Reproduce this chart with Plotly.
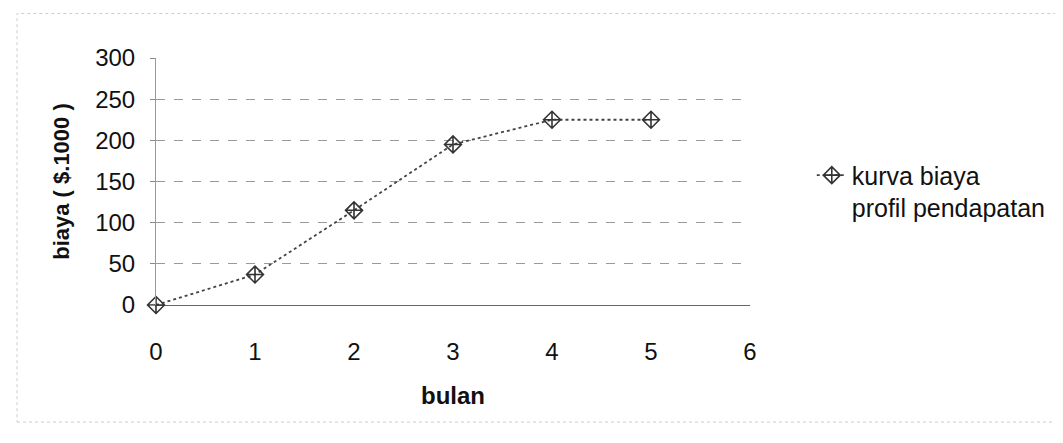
import plotly.graph_objects as go

bulan = [0, 1, 2, 3, 4, 5]
biaya = [0, 37, 115, 195, 225, 225]
y_ticks = [0, 50, 100, 150, 200, 250, 300]
x_ticks = [0, 1, 2, 3, 4, 5, 6]

fig = go.Figure()
fig.add_trace(go.Scatter(
    x=bulan,
    y=biaya,
    mode="lines+markers",
    name="kurva biaya<br>profil pendapatan",
    line=dict(color="#444444", width=1.8, dash="dot"),
    marker=dict(symbol="diamond-cross-open", size=13, color="#333333", line=dict(width=1.6)),
    cliponaxis=False,
))

# the page body adds an 8px margin, so the margins are pulled in by 8px
fig.update_layout(
    width=1063,
    height=443,
    margin=dict(l=148, r=321, t=50, b=146),
    paper_bgcolor="white",
    plot_bgcolor="white",
    font=dict(family="Liberation Sans, Arial", size=24, color="#111111"),
    showlegend=True,
    legend=dict(
        x=1.104, y=0.46, xanchor="left", yanchor="middle",
        font=dict(size=25), bgcolor="rgba(0,0,0,0)",
        valign="top",
    ),
    xaxis=dict(
        range=[0, 6],
        tickvals=x_ticks,
        showgrid=False,
        zeroline=False,
        showline=False,
        ticks="",
        ticklabelstandoff=30,
        tickfont=dict(size=24),
        title=dict(text="<b>bulan</b>", font=dict(size=24), standoff=23),
    ),
    yaxis=dict(
        range=[0, 300],
        tickvals=y_ticks,
        showgrid=True,
        gridcolor="#9a9a9a",
        griddash="dash",
        gridwidth=1,
        zeroline=True,
        zerolinecolor="#666666",
        zerolinewidth=1,
        showline=True,
        linecolor="#999999",
        linewidth=1,
        ticks="outside",
        ticklen=5,
        tickcolor="#888888",
        ticklabelstandoff=10,
        tickfont=dict(size=24),
        title=dict(text="<b>biaya ( $.1000 )</b>", font=dict(size=22), standoff=19),
    ),
    shapes=[dict(
        type="rect", xref="paper", yref="paper",
        x0=-0.234, x1=1.6, y0=-0.474, y1=1.18,
        line=dict(color="#cccccc", width=1, dash="dot"),
    )],
)

fig.write_html("out.html")
